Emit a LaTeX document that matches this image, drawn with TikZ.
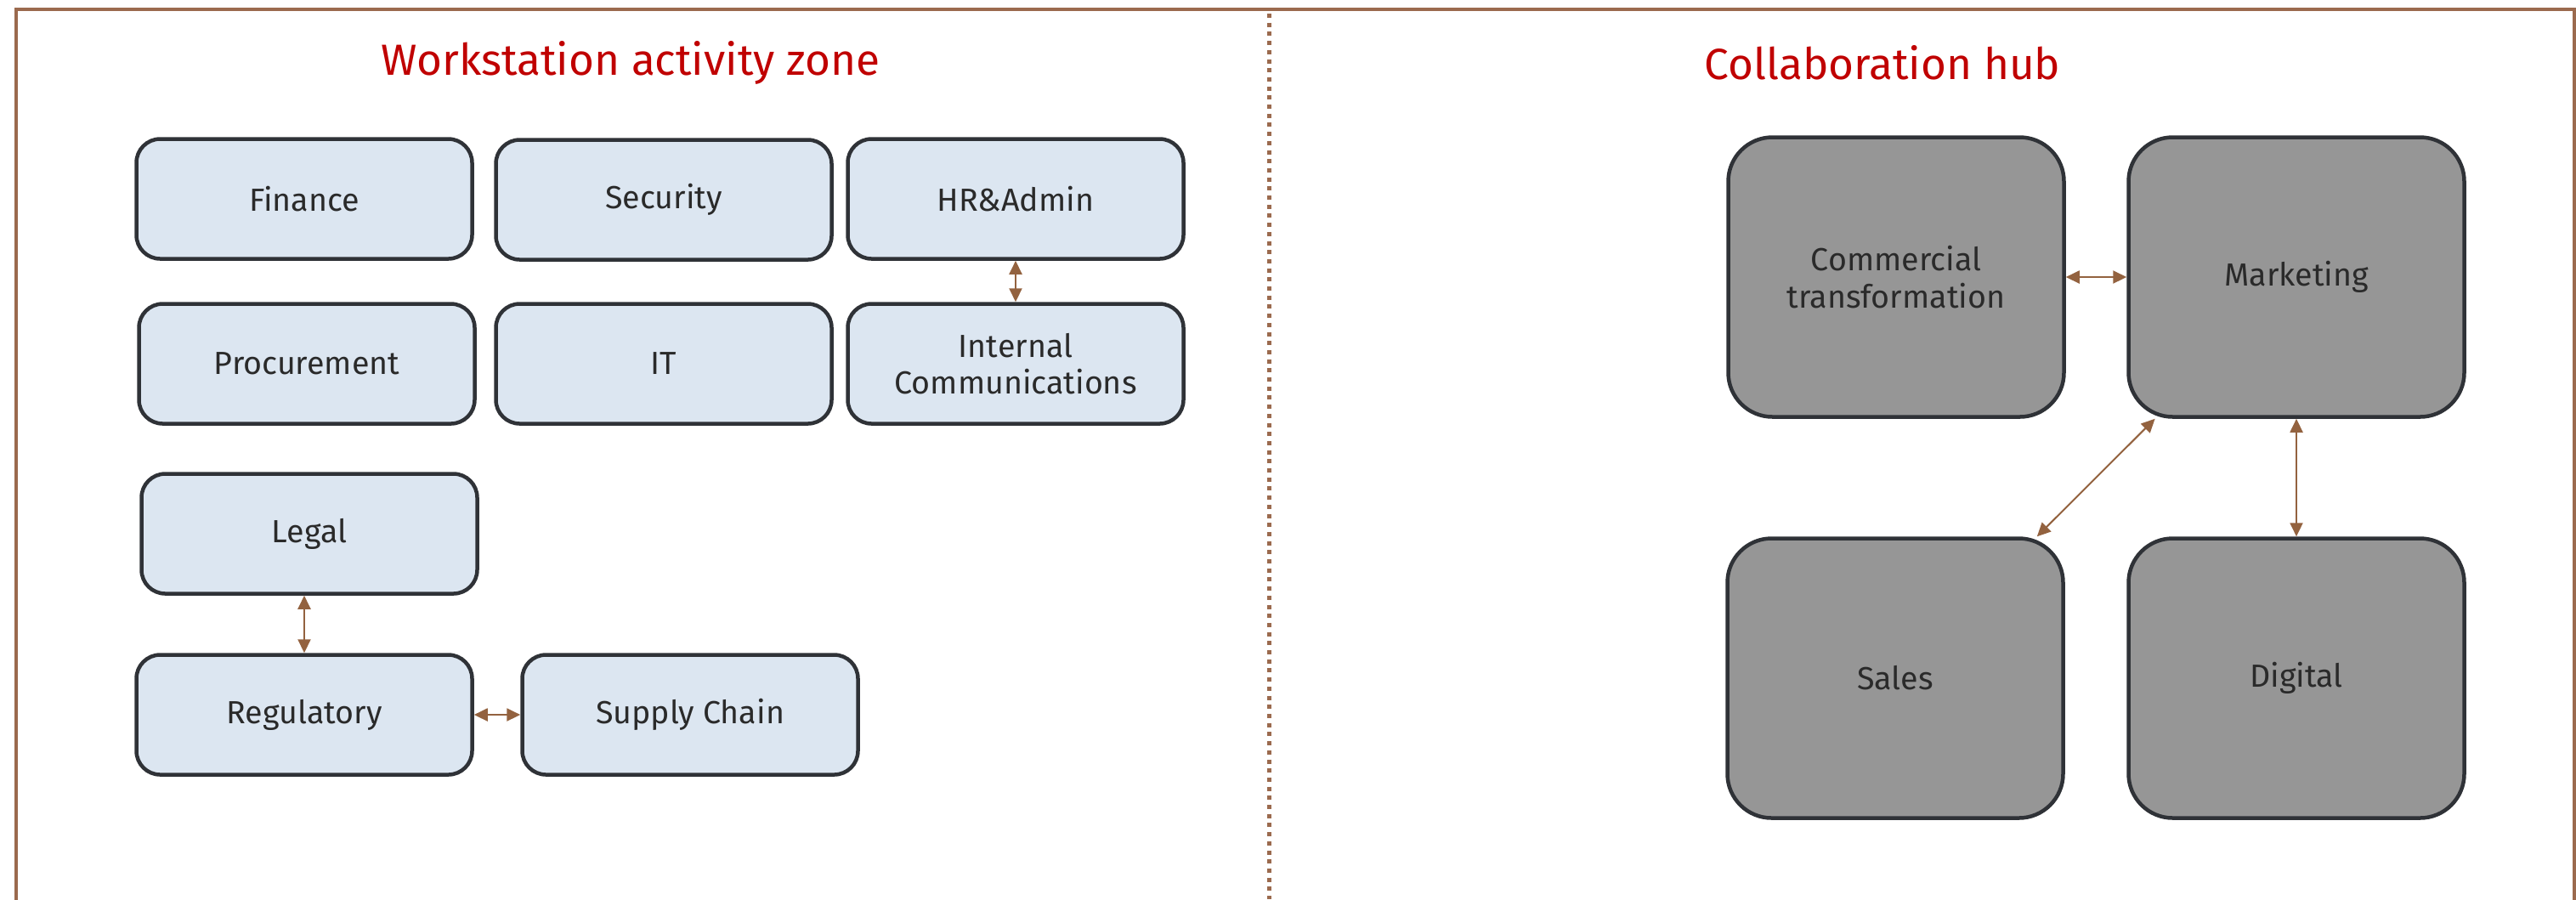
\documentclass[tikz,border=0pt]{standalone}
\usepackage{fontspec}
\setmainfont{Fira Sans}
\usetikzlibrary{arrows.meta}
\definecolor{framebrown}{HTML}{9B6A4E}
\definecolor{linkbrown}{HTML}{93623F}
\definecolor{titlered}{HTML}{C00000}
\definecolor{deskfill}{HTML}{DCE6F1}
\definecolor{hubfill}{HTML}{969696}
\definecolor{boxline}{HTML}{2F3237}
\definecolor{labelgray}{HTML}{2A2A2A}
\begin{document}
\begin{tikzpicture}[
    desk/.style={rectangle, rounded corners=0.28cm, draw=boxline, line width=0.045cm,
      fill=deskfill, minimum width=3.95cm, minimum height=1.41cm, align=center,
      text=labelgray, font=\fontsize{10.7pt}{12.3pt}\selectfont},
    hub/.style={desk, rounded corners=0.52cm, fill=hubfill, minimum height=3.29cm},
    zonetitle/.style={text=titlered, font=\fontsize{14.6pt}{18pt}\selectfont},
    link/.style={{Triangle[length=0.16cm,width=0.15cm]}-{Triangle[length=0.16cm,width=0.15cm]},
      draw=linkbrown, fill=linkbrown, line width=0.02cm}
  ]
  \useasboundingbox (0,0) rectangle (30.31,-10.58);
  % Frame and divider
  \draw[framebrown, line width=0.04cm] (0.19,-11) -- (0.19,-0.11) -- (30.29,-0.11) -- (30.29,-11);
  \draw[framebrown, line width=0.05cm, dash pattern=on 0.05cm off 0.057cm] (14.93,-0.16) -- (14.93,-10.58);
  % Titles
  \node[zonetitle] (deskzone) at (7.42,-0.74) {Workstation activity zone};
  \node[zonetitle] (hubzone) at (22.15,-0.74) {Collaboration hub};
  % Workstation activity zone
  \node[desk] (finance) at (3.58,-2.34) {Finance};
  \node[desk] (security) at (7.81,-2.35) {Security};
  \node[desk] (hradmin) at (11.95,-2.34) {HR\&Admin};
  \node[desk] (procurement) at (3.61,-4.28) {Procurement};
  \node[desk] (it) at (7.81,-4.28) {IT};
  \node[desk] (intcomm) at (11.95,-4.28) {Internal\\Communications};
  \node[desk] (legal) at (3.64,-6.28) {Legal};
  \node[desk] (regulatory) at (3.58,-8.41) {Regulatory};
  \node[desk] (supply) at (8.12,-8.41) {Supply Chain};
  % Collaboration hub
  \node[hub] (commercial) at (22.31,-3.26) {Commercial\\transformation};
  \node[hub] (marketing) at (27.02,-3.26) {Marketing};
  \node[hub] (sales) at (22.30,-7.98) {Sales};
  \node[hub] (digital) at (27.02,-7.98) {Digital};
  % Links
  \draw[link] (hradmin) -- (intcomm);
  \draw[link] (regulatory.north) -- (regulatory.north |- legal.south);
  \draw[link] (regulatory) -- (supply);
  \draw[link] (commercial) -- (marketing);
  \draw[link] (sales) -- (marketing);
  \draw[link] (marketing) -- (digital);
\end{tikzpicture}
\end{document}
